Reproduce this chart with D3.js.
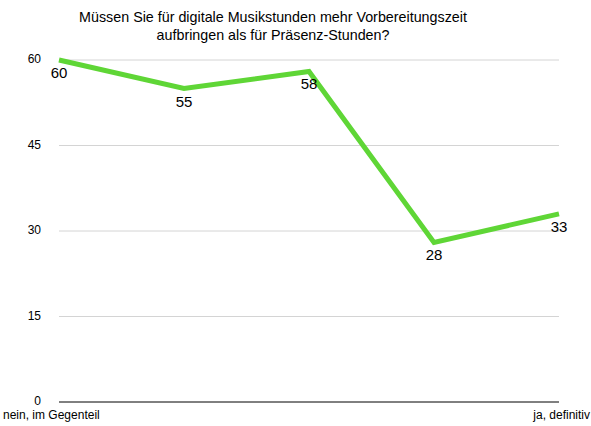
<!DOCTYPE html>
<html>
<head>
<meta charset="utf-8">
<script src="https://cdn.jsdelivr.net/npm/d3@7"></script>
<style>
  body { margin: 0; background: #fff; }
  text { font-family: "Liberation Sans", Arial, Helvetica, sans-serif; fill: #000; }
</style>
</head>
<body>
<svg width="591" height="426"></svg>
<script>
"use strict";
var categories = ["nein, im Gegenteil", "2", "3", "4", "ja, definitiv"];
var values = [60, 55, 58, 28, 33];
var yTicks = [0, 15, 30, 45, 60];
var titleLines = ["Müssen Sie für digitale Musikstunden mehr Vorbereitungszeit",
                  "aufbringen als für Präsenz-Stunden?"];

var svg = d3.select("svg");
var x = d3.scalePoint().domain(d3.range(values.length)).range([59, 559]);
var y = d3.scaleLinear().domain([0, 60]).range([402, 60]);

// title
svg.append("g").selectAll("text")
  .data(titleLines)
  .enter()
  .append("text")
  .attr("x", 273)
  .attr("y", (d, i) => 22 + i * 18)
  .attr("text-anchor", "middle")
  .style("font-size", "14.3px")
  .text(d => d);

// grid
svg.append("g").selectAll("line")
  .data(yTicks)
  .enter()
  .append("line")
  .attr("x1", 59).attr("x2", 559)
  .attr("y1", d => y(d)).attr("y2", d => y(d))
  .attr("stroke", d => d === 0 ? "#000" : "#d4d4d4")
  .attr("stroke-width", 1);

svg.append("g").selectAll("text")
  .data(yTicks)
  .enter()
  .append("text")
  .attr("x", 41)
  .attr("y", d => y(d) + 3)
  .attr("text-anchor", "end")
  .style("font-size", "12px")
  .text(d => d);

// category labels (only ends shown)
svg.append("text").attr("x", 3).attr("y", 419)
  .style("font-size", "12px").text(categories[0]);
svg.append("text").attr("x", 590).attr("y", 419).attr("text-anchor", "end")
  .style("font-size", "12px").text(categories[categories.length - 1]);

// line
var line = d3.line().x((d, i) => x(i)).y(d => y(d));
svg.append("path")
  .datum(values)
  .attr("d", line)
  .attr("fill", "none")
  .attr("stroke", "#5fd636")
  .attr("stroke-width", 5)
  .attr("stroke-linejoin", "miter");

// value labels
svg.append("g").selectAll("text")
  .data(values)
  .enter()
  .append("text")
  .attr("x", (d, i) => x(i))
  .attr("y", d => y(d) + 18)
  .attr("text-anchor", "middle")
  .style("font-size", "15px")
  .text(d => d);
</script>
</body>
</html>
